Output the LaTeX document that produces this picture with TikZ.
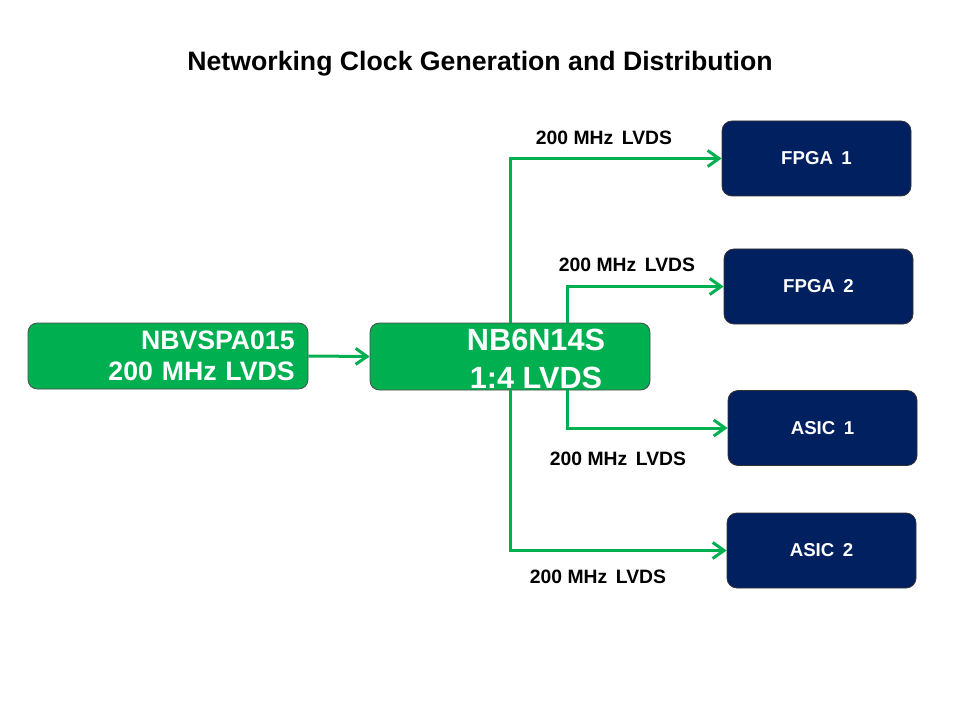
\documentclass[tikz,border=0pt]{standalone}
\usepackage{fontspec}
\setmainfont{Liberation Sans}
\usetikzlibrary{arrows.meta}
\definecolor{chipgreen}{RGB}{0,176,80}
\definecolor{linkgreen}{RGB}{0,176,80}
\definecolor{navy}{RGB}{0,32,96}
\newcommand{\wsp}{\hspace{0.45em}}

\begin{document}
\begin{tikzpicture}[x=0.75pt,y=-0.75pt]
  \tikzstyle{ChipStyle}=[draw=black!70,line width=0.6pt,fill=chipgreen,rounded corners=7pt,
                         text=white,font=\bfseries]
  \tikzstyle{SinkStyle}=[draw=black!80,line width=0.6pt,fill=navy,rounded corners=7.5pt,
                         text=white,font=\fontsize{14}{17}\selectfont\bfseries,
                         minimum width=141.75pt,minimum height=56.25pt]
  \tikzstyle{LinkStyle}=[draw=linkgreen,line width=2.25pt,
                         -{Straight Barb[length=8.5pt,width=12pt,line width=2.25pt]}]
  \tikzstyle{RateStyle}=[font=\fontsize{14.5}{17}\selectfont\bfseries]
  \useasboundingbox (0,0) rectangle (960,720);
  % title
  \node[font=\fontsize{20}{24}\selectfont\bfseries] (title) at (480,64)
    {Networking Clock Generation and Distribution};
  % oscillator and buffer
  \node[ChipStyle,minimum width=210pt,minimum height=49.5pt,text width=190pt,align=right,
        font=\fontsize{20}{23}\selectfont\bfseries] (osc) at (168,356)
    {NBVSPA015\\200 MHz LVDS};
  \node[ChipStyle,minimum width=210pt,minimum height=50.25pt,
        label={[xshift=19.5pt,yshift=-1.5pt,align=center,text=white,
                font=\fontsize{23}{28.5}\selectfont\bfseries]center:NB6N14S\\1:4 LVDS}]
    (buf) at (510,356.5) {};
  % loads
  \node[SinkStyle] (fpga1) at (816.5,158.5) {FPGA\wsp1};
  \node[SinkStyle] (fpga2) at (818.5,286.5) {FPGA\wsp2};
  \node[SinkStyle] (asic1) at (822.5,428)   {ASIC\wsp1};
  \node[SinkStyle] (asic2) at (821.5,550.5) {ASIC\wsp2};
  % clock links
  \draw[LinkStyle] (osc.east) -- (buf.west);
  \draw[LinkStyle] (buf.north) |- (fpga1.west);
  \draw[LinkStyle] ([xshift=42.75pt]buf.north) |- (fpga2.west);
  \draw[LinkStyle] ([xshift=42.75pt]buf.south) |- (asic1.west);
  \draw[LinkStyle] (buf.south) |- (asic2.west);
  % rates
  \node[RateStyle] (rate1) at (604,138) {200 MHz\wsp LVDS};
  \node[RateStyle] (rate2) at (627,265) {200 MHz\wsp LVDS};
  \node[RateStyle] (rate3) at (618,459) {200 MHz\wsp LVDS};
  \node[RateStyle] (rate4) at (598,577) {200 MHz\wsp LVDS};
\end{tikzpicture}
\end{document}
